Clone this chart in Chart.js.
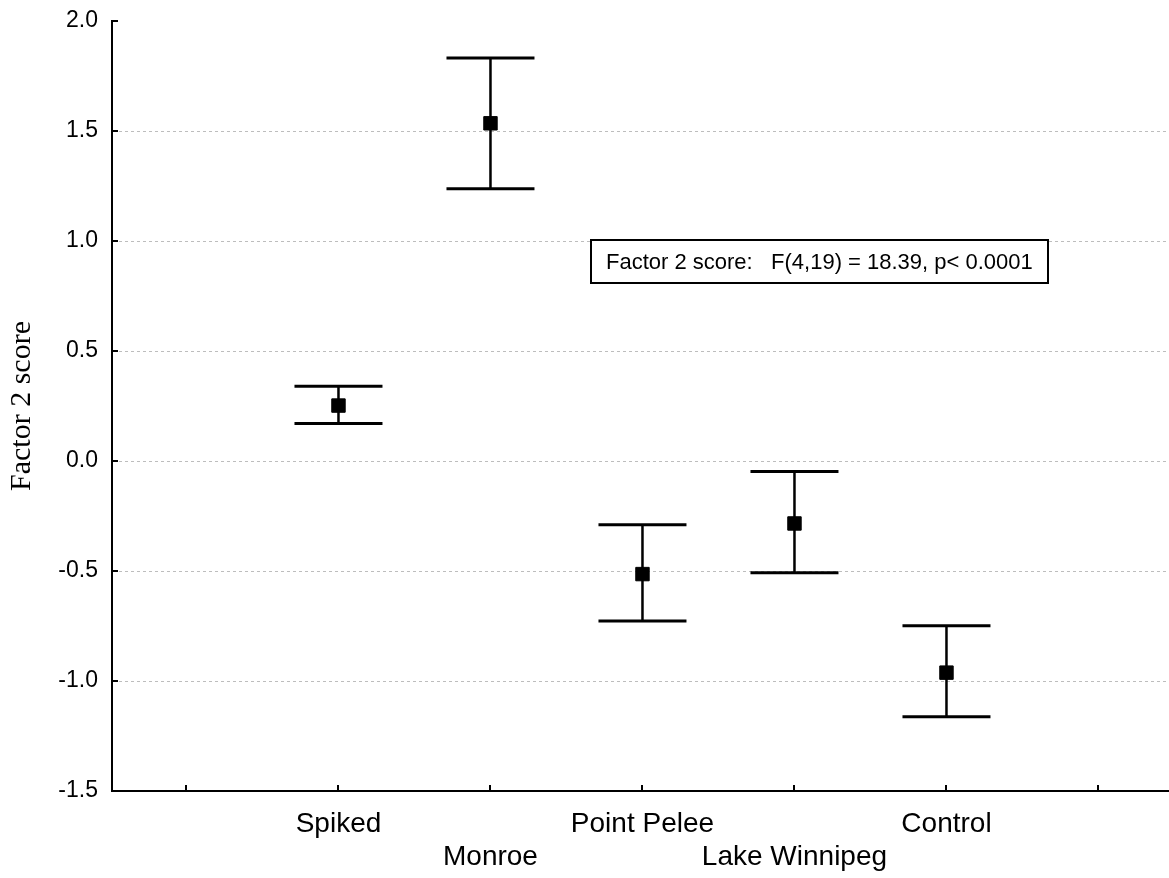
<!DOCTYPE html>
<html><head><meta charset="utf-8">
<script src="https://cdn.jsdelivr.net/npm/chart.js@4/dist/chart.umd.min.js"></script>
<style>html,body{margin:0;padding:0;background:#fff;} canvas{display:block;}</style>
</head><body>
<canvas id="c" width="1169" height="878"></canvas>
<script>
// ---- data ----
const categories = ['Spiked', 'Monroe', 'Point Pelee', 'Lake Winnipeg', 'Control'];
const categoryPositions = [1, 2, 3, 4, 5];
const labelRows = [0, 1, 0, 1, 0];
const means = [0.252, 1.535, -0.514, -0.284, -0.962];
const upper = [0.340, 1.832, -0.290, -0.048, -0.749];
const lower = [0.170, 1.238, -0.727, -0.508, -1.162];
const yTickValues = [-1.5, -1.0, -0.5, 0.0, 0.5, 1.0, 1.5, 2.0];
const xTickValues = [0, 1, 2, 3, 4, 5, 6];
const yTitle = 'Factor 2 score';
const annotationText = 'Factor 2 score:   F(4,19) = 18.39, p< 0.0001';

// ---- datasets built from arrays ----
const meanData = categoryPositions.map((x, i) => ({x: x, y: means[i]}));
const capData = [];
const stemData = [];
categoryPositions.forEach((x, i) => {
  capData.push({x: x, y: upper[i]}, {x: x, y: lower[i]});
  stemData.push({x: x, y: lower[i]}, {x: x, y: upper[i]}, {x: x, y: null});
});

Chart.defaults.color = '#000';
const sansFont = '"Liberation Sans", Arial, sans-serif';
Chart.defaults.font.family = sansFont;

const inwardTicks = {
  id: 'inwardTicks',
  afterDraw(chart) {
    const {ctx, chartArea, scales: {x, y}} = chart;
    ctx.save();
    ctx.strokeStyle = '#000';
    ctx.lineWidth = 2;
    ctx.beginPath();
    yTickValues.forEach(v => {
      const py = Math.round(y.getPixelForValue(v));
      ctx.moveTo(chartArea.left, py);
      ctx.lineTo(chartArea.left + 6, py);
    });
    xTickValues.forEach(v => {
      const px = Math.round(x.getPixelForValue(v));
      ctx.moveTo(px, chartArea.bottom);
      ctx.lineTo(px, chartArea.bottom - 6);
    });
    ctx.stroke();
    // annotation box
    const bx = Math.round(x.getPixelForValue(2.66));
    const by = Math.round(y.getPixelForValue(1.005));
    const bw = 457, bh = 43;
    ctx.fillStyle = '#fff';
    ctx.fillRect(bx, by, bw, bh);
    ctx.strokeRect(bx, by, bw, bh);
    ctx.fillStyle = '#000';
    ctx.font = '22px ' + sansFont;
    ctx.textBaseline = 'middle';
    ctx.textAlign = 'left';
    ctx.fillText(annotationText, bx + 15, by + bh / 2 + 1);
    ctx.restore();
  }
};

new Chart(document.getElementById('c'), {
  type: 'scatter',
  data: {
    datasets: [
      {
        label: 'stems', type: 'line', data: stemData, showLine: true, spanGaps: false,
        borderColor: '#000', borderWidth: 2.5, pointRadius: 0, order: 3
      },
      {
        label: 'caps', data: capData, pointStyle: 'line', pointRadius: 44,
        borderColor: '#000', borderWidth: 3, order: 2
      },
      {
        label: 'means', data: meanData, pointStyle: 'rect', pointRadius: 9.5,
        backgroundColor: '#000', borderColor: '#000', borderWidth: 1, order: 1
      }
    ]
  },
  options: {
    responsive: false,
    animation: false,
    layout: {autoPadding: false, padding: {top: 21, right: 0, left: 0, bottom: 0}},
    plugins: {legend: {display: false}, tooltip: {enabled: false}},
    scales: {
      x: {
        type: 'linear', min: -0.49, max: 6.464,
        afterBuildTicks: s => { s.ticks = xTickValues.map(v => ({value: v})); },
        afterFit: s => { s.height = 87; s.paddingLeft = 0; s.paddingRight = 0; },
        grid: {display: false, drawTicks: false},
        border: {display: true, color: '#000', width: 2},
        ticks: {
          autoSkip: false, maxRotation: 0, padding: 17,
          font: {size: 28, family: sansFont, lineHeight: 1.18},
          callback: v => {
            const i = categoryPositions.indexOf(v);
            if (i < 0) return '';
            return labelRows[i] ? ['', categories[i]] : categories[i];
          }
        }
      },
      y: {
        type: 'linear', min: -1.5, max: 2.0,
        afterBuildTicks: s => { s.ticks = yTickValues.map(v => ({value: v})); },
        afterFit: s => { s.width = 112; s.paddingTop = 0; s.paddingBottom = 0; },
        grid: {
          drawTicks: false, lineWidth: 1,
          color: c => (c.tick && (c.tick.value === 2.0 || c.tick.value === -1.5)) ? 'rgba(0,0,0,0)' : '#bdbdbd'
        },
        border: {display: true, color: '#000', width: 2, dash: [3, 3]},
        ticks: {
          padding: 14,
          font: {size: 23, family: sansFont},
          callback: v => v.toFixed(1)
        },
        title: {
          display: true, text: yTitle,
          font: {size: 30, family: '"Liberation Serif", "Times New Roman", serif', lineHeight: 1.2},
          padding: {top: 4, bottom: 0}
        }
      }
    }
  },
  plugins: [inwardTicks]
});
</script>
</body></html>
